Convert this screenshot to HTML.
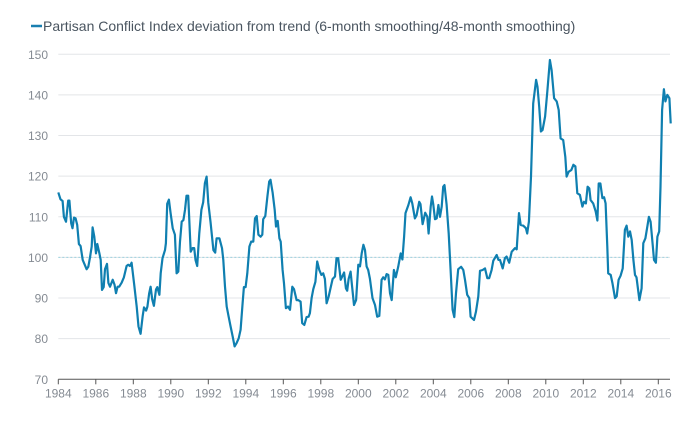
<!DOCTYPE html>
<html><head><meta charset="utf-8"><style>
body{margin:0;background:#fff;}
svg{display:block;font-family:"Liberation Sans",sans-serif;}
</style></head><body>
<svg id="chart" width="700" height="421" viewBox="0 0 700 421">
<g>
<line x1="31" y1="26" x2="42" y2="26" stroke="#1a7fb0" stroke-width="2.5"/>
<text x="43" y="31" font-size="14" fill="#4a5560">Partisan Conflict Index deviation from trend (6-month smoothing/48-month smoothing)</text>
</g>
<g id="grid"></g>
<g id="yticks"></g>
<g id="xticks"></g>
<g id="series"></g>
</svg>
<script>
const yTicks=[70,80,90,100,110,120,130,140,150];
const xTicks=[1984,1986,1988,1990,1992,1994,1996,1998,2000,2002,2004,2006,2008,2010,2012,2014,2016];
const dates=[1984.0,1984.12,1984.23,1984.3,1984.41,1984.53,1984.59,1984.69,1984.76,1984.84,1984.92,1985.01,1985.1,1985.19,1985.3,1985.51,1985.6,1985.69,1985.78,1985.83,1985.92,1986.01,1986.08,1986.19,1986.26,1986.33,1986.42,1986.49,1986.6,1986.67,1986.76,1986.9,1987.0,1987.08,1987.16,1987.25,1987.38,1987.5,1987.64,1987.73,1987.82,1987.91,1988.05,1988.18,1988.28,1988.39,1988.5,1988.57,1988.68,1988.75,1988.85,1988.92,1989.01,1989.1,1989.21,1989.28,1989.39,1989.46,1989.56,1989.69,1989.74,1989.81,1989.9,1989.99,1990.1,1990.22,1990.31,1990.4,1990.49,1990.58,1990.67,1990.76,1990.84,1990.93,1991.06,1991.16,1991.25,1991.32,1991.41,1991.52,1991.63,1991.73,1991.82,1991.91,1992.0,1992.12,1992.27,1992.37,1992.44,1992.59,1992.73,1992.8,1992.89,1992.98,1993.08,1993.19,1993.3,1993.4,1993.51,1993.62,1993.72,1993.83,1993.9,1993.99,1994.08,1994.19,1994.29,1994.4,1994.49,1994.58,1994.67,1994.79,1994.88,1994.93,1995.04,1995.15,1995.25,1995.32,1995.43,1995.54,1995.61,1995.7,1995.79,1995.86,1995.96,1996.04,1996.14,1996.25,1996.36,1996.48,1996.57,1996.71,1996.8,1996.92,1997.01,1997.12,1997.24,1997.35,1997.42,1997.51,1997.6,1997.71,1997.81,1997.92,1998.03,1998.13,1998.22,1998.31,1998.42,1998.52,1998.63,1998.76,1998.84,1998.93,1999.06,1999.16,1999.24,1999.34,1999.41,1999.48,1999.59,1999.66,1999.77,1999.88,2000.0,2000.09,2000.18,2000.27,2000.36,2000.44,2000.53,2000.62,2000.76,2000.89,2001.01,2001.12,2001.24,2001.33,2001.42,2001.51,2001.6,2001.69,2001.78,2001.9,2002.0,2002.13,2002.26,2002.35,2002.44,2002.52,2002.67,2002.79,2002.88,2003.02,2003.11,2003.25,2003.32,2003.43,2003.57,2003.68,2003.75,2003.86,2003.93,2004.0,2004.09,2004.18,2004.27,2004.36,2004.45,2004.53,2004.6,2004.71,2004.82,2004.92,2005.03,2005.12,2005.21,2005.33,2005.48,2005.6,2005.69,2005.81,2005.92,2005.99,2006.17,2006.28,2006.4,2006.49,2006.63,2006.76,2006.88,2006.98,2007.11,2007.2,2007.38,2007.47,2007.56,2007.7,2007.82,2007.91,2008.05,2008.18,2008.36,2008.45,2008.57,2008.66,2008.8,2008.94,2009.01,2009.1,2009.21,2009.33,2009.48,2009.56,2009.65,2009.74,2009.83,2009.96,2010.08,2010.22,2010.31,2010.44,2010.58,2010.69,2010.79,2010.93,2011.04,2011.11,2011.22,2011.36,2011.47,2011.58,2011.68,2011.82,2011.95,2012.04,2012.14,2012.23,2012.32,2012.39,2012.53,2012.66,2012.75,2012.82,2012.91,2013.02,2013.11,2013.19,2013.28,2013.33,2013.46,2013.56,2013.69,2013.78,2013.88,2013.99,2014.1,2014.22,2014.31,2014.4,2014.49,2014.58,2014.67,2014.76,2014.84,2014.99,2015.11,2015.2,2015.31,2015.43,2015.5,2015.59,2015.7,2015.77,2015.87,2015.95,2016.05,2016.12,2016.2,2016.3,2016.38,2016.48,2016.59,2016.66];
const values=[116,114.3,113.9,110,108.8,114,114,108.4,107.2,109.8,109.6,108,103.3,102.8,99.4,97.1,97.7,100,102.7,107.4,105.1,101,103.3,101,99.4,92,92.7,97.1,98.4,93.7,92.8,94.5,93.3,91.2,92.8,92.8,93.8,95.1,97.9,98.2,97.9,98.7,93.3,87.9,83,81.2,85.6,87.7,86.9,87.9,91.2,92.8,89.7,88.1,92.1,92.7,90.8,96.1,99.8,101.8,103.5,113.2,114.2,110.9,107.2,105.6,96.1,96.5,103.9,108.8,109.2,111.7,115.2,115.2,101.4,102.3,102.3,99.4,97.9,106,111.7,113.6,118.3,119.9,113.4,108.8,101.8,101.2,104.7,104.7,102.3,99.4,92.8,87.9,85.6,83,80.5,78.1,78.9,80.1,82.2,88.7,92.7,92.7,96.1,102.7,103.9,103.9,109.6,110.2,105.6,105.1,105.6,109.4,110.2,115,118.7,119.1,116,111.7,107.6,109,104.7,103.9,96.9,93.6,87.5,87.9,87.1,92.8,92.2,89.5,89.5,89.1,83.8,83.4,85.3,85.4,86.3,90,92.2,94,99,96.9,95.7,96.1,94.7,88.7,90.4,92.4,94.7,95.3,99.8,99.8,94.5,95.5,96.3,92.4,91.8,94.7,96.5,93.3,88.3,89.5,98.2,97.8,101,103.1,101.8,97.8,96.9,94.8,90,88.3,85.4,85.6,94.5,95.1,94.6,95.9,95.7,91.2,89.5,96.9,95.1,97.7,101,99.5,105.1,110.9,112.9,114.8,113.3,109.6,110.4,113.7,113.1,108.2,111,110,105.9,112.5,115,113,109.4,109.6,112.9,110,112.5,117.4,117.8,113,105.9,96.9,87.1,85.3,91.2,97.1,97.7,96.9,94.5,90.8,90,85.4,84.6,86.7,90.4,96.7,96.9,97.3,94.9,94.9,96.9,99.2,100.6,99.4,99.4,97.3,99.8,100.2,98.7,101.4,102.3,102,110.9,108,107.8,107.2,105.9,108.8,119.9,137.9,143.7,142,137.1,131,131.4,134.7,140.8,148.6,146.1,139.2,138.4,136.3,129.3,128.9,124.8,119.9,121.1,121.5,122.8,122.4,115.8,115.4,112.5,113.7,113.3,117.4,117,114.1,113.3,111.3,109.1,118.2,118.2,114.6,114.8,113.3,102.7,96.1,95.7,93.6,90,90.4,94.5,95.5,97.3,106.8,107.8,105.1,106.4,104.3,99.4,95.7,95.1,89.5,92.4,103.5,104.7,108,110,108.8,103.1,99.4,98.7,105.1,106.4,117.4,136.3,141.4,138.4,140,139.2,133];

const NS='http://www.w3.org/2000/svg';
const x0=58.3,x1=658.3,y0=379.3,yPer=4.0625;
function xs(d){return x0+(d-1984)*(x1-x0)/32;}
function ys(v){return y0-(v-70)*yPer;}
function mk(tag,attrs,parent){const e=document.createElementNS(NS,tag);for(const k in attrs)e.setAttribute(k,attrs[k]);parent.appendChild(e);return e;}
const grid=document.getElementById('grid'),yt=document.getElementById('yticks'),xt=document.getElementById('xticks'),ser=document.getElementById('series');
yTicks.forEach(v=>{
  if(v>70){
    const g=mk('line',{x1:x0,x2:670,y1:ys(v),y2:ys(v),stroke:'#e3e5e8','stroke-width':1},grid);
    
    
  }
  const t=mk('text',{x:48,y:ys(v)+4.5,'text-anchor':'end','font-size':12,fill:'#858b93'},yt);
  t.textContent=v;
  
  
});
const ref=mk('line',{x1:x0,x2:670,y1:ys(100),y2:ys(100),stroke:'#9fd3e0','stroke-width':1,'stroke-dasharray':'2,2'},grid);


const ax=mk('line',{x1:x0,x2:670,y1:y0,y2:y0,stroke:'#555','stroke-width':1},xt);


xTicks.forEach(d=>{
  const tk=mk('line',{x1:xs(d),x2:xs(d),y1:y0,y2:y0+5,stroke:'#555','stroke-width':1},xt);
  
  
  const t=mk('text',{x:xs(d),y:y0+18,'text-anchor':'middle','font-size':12,fill:'#858b93'},xt);
  t.textContent=d;
  
  
});
const pts=dates.map((d,i)=>xs(d).toFixed(1)+','+ys(values[i]).toFixed(1)).join(' ');
const pl=mk('polyline',{points:pts,fill:'none',stroke:'#0f7fb0','stroke-width':2.2,'stroke-linejoin':'round'},ser);


</script>
</body></html>
